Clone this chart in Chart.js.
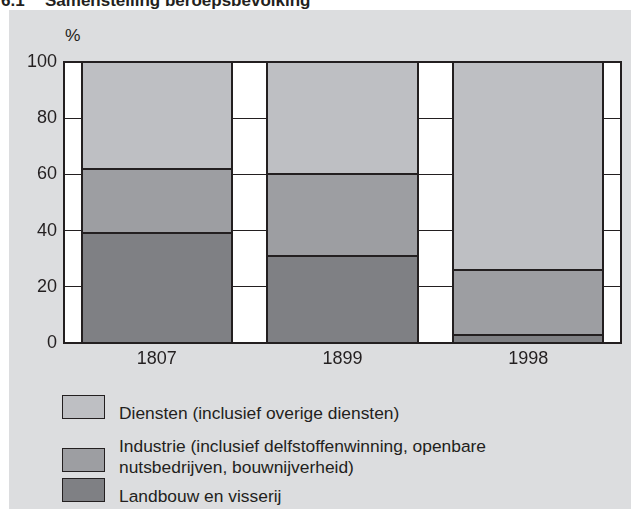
<!DOCTYPE html>
<html>
<head>
<meta charset="utf-8">
<script src="https://cdn.jsdelivr.net/npm/chart.js@4.4.0/dist/chart.umd.min.js"></script>
<style>
  body { margin: 0; background: #fff; font-family: "Liberation Sans", Arial, sans-serif; color: #231f20; }
  #wrap { position: relative; width: 631px; height: 509px; overflow: hidden; }
  #title { position: absolute; top: -9px; left: 0; font-weight: bold; font-size: 17px; white-space: nowrap; }
  #title span { position: absolute; top: 0; }
  #panel { position: absolute; left: 9px; top: 10px; width: 622px; height: 499px; background: #dcdddf; }
  #box { position: absolute; left: 0; top: 0; width: 622px; height: 370px; }
  #unit { position: absolute; left: 56px; top: 15px; font-size: 17.4px; }
  .lg-box { position: absolute; left: 53px; width: 41px; height: 22px; border: 1px solid #231f20; }
  .lg-text { position: absolute; left: 110px; font-size: 17.4px; line-height: 21px; }
</style>
</head>
<body>
<div id="wrap">
  <div id="title"><span style="left:1px">6.1</span><span style="left:45px">Samenstelling beroepsbevolking</span></div>
  <div id="panel">
    <div id="unit">%</div>
    <div id="box"><canvas id="bar-chart"></canvas></div>
    <div id="legend"></div>
  </div>
</div>
<script>
const years = ['1807', '1899', '1998'];
const landbouw = [39, 31, 3];
const industrie = [23, 29, 23];
const diensten = [38, 40, 74];
const yTicks = [0, 20, 40, 60, 80, 100];

const seriesLabels = [
  'Landbouw en visserij',
  'Industrie (inclusief delfstoffenwinning, openbare nutsbedrijven, bouwnijverheid)',
  'Diensten (inclusief overige diensten)'
];
const seriesColors = ['#7f8084', '#9d9ea2', '#bebfc3'];
const ink = '#231f20';

// white plot area, frame round it and dark outlines round every bar segment
const frame = {
  id: 'frame',
  beforeDraw(chart) {
    const { ctx, chartArea: a } = chart;
    ctx.save();
    ctx.fillStyle = '#ffffff';
    ctx.fillRect(a.left, a.top, a.right - a.left, a.bottom - a.top);
    ctx.restore();
  },
  afterDatasetsDraw(chart) {
    const { ctx, chartArea: a } = chart;
    ctx.save();
    ctx.strokeStyle = ink;
    ctx.lineWidth = 2;
    chart.data.datasets.forEach((ds, i) => {
      chart.getDatasetMeta(i).data.forEach(bar => {
        const left = Math.round(bar.x - bar.width / 2);
        const right = Math.round(bar.x + bar.width / 2);
        const top = Math.round(bar.y);
        const bottom = Math.round(bar.base);
        ctx.strokeRect(left, top, right - left, bottom - top);
      });
    });
    ctx.strokeRect(a.left, a.top, a.right - a.left, a.bottom - a.top);
    ctx.restore();
  }
};

const barCanvas = document.getElementById('bar-chart');
const barChart = new Chart(barCanvas, {
  type: 'bar',
  data: {
    labels: years,
    datasets: [landbouw, industrie, diensten].map((values, i) => ({
      label: seriesLabels[i],
      data: values,
      backgroundColor: seriesColors[i],
      borderWidth: 0,
      inflateAmount: 0,
      categoryPercentage: 0.81,
      barPercentage: 1
    }))
  },
  options: {
    responsive: true,
    maintainAspectRatio: false,
    animation: false,
    layout: { padding: { top: 52, right: 10, left: 0, bottom: 0 } },
    plugins: {
      legend: { display: false },
      tooltip: { enabled: false }
    },
    scales: {
      x: {
        stacked: true,
        grid: { display: false, drawTicks: false },
        border: { color: ink, width: 2 },
        ticks: { color: ink, padding: 5, font: { family: 'Liberation Sans', size: 18 } },
        afterFit: scale => { scale.height = 37; }
      },
      y: {
        stacked: true,
        min: 0,
        max: 100,
        afterBuildTicks: scale => { scale.ticks = yTicks.map(v => ({ value: v })); },
        grid: { color: ink, lineWidth: 1, drawTicks: false },
        border: { color: ink, width: 2 },
        ticks: { color: ink, padding: 7, font: { family: 'Liberation Sans', size: 18 } },
        afterFit: scale => { scale.width = 55; }
      }
    }
  },
  plugins: [frame]
});

// legend, top to bottom: Diensten, Industrie, Landbouw
const legendRows = [
  { i: 2, boxTop: 385, textTop: 393, lines: ['Diensten (inclusief overige diensten)'] },
  { i: 1, boxTop: 438, textTop: 426, lines: ['Industrie (inclusief delfstoffenwinning, openbare', 'nutsbedrijven, bouwnijverheid)'] },
  { i: 0, boxTop: 468, textTop: 476, lines: ['Landbouw en visserij'] }
];
const legend = document.getElementById('legend');
legendRows.forEach(row => {
  const box = document.createElement('div');
  box.className = 'lg-box';
  box.style.top = row.boxTop + 'px';
  box.style.background = seriesColors[row.i];
  legend.appendChild(box);
  const text = document.createElement('div');
  text.className = 'lg-text';
  text.style.top = row.textTop + 'px';
  text.innerHTML = row.lines.join('<br>');
  legend.appendChild(text);
});
</script>
</body>
</html>
